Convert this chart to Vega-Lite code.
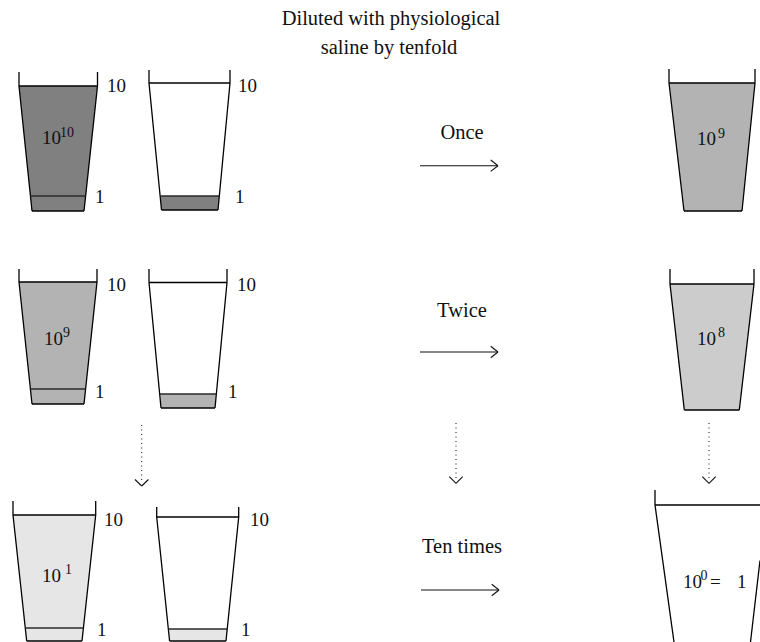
{
  "$schema": "https://vega.github.io/schema/vega-lite/v6.json",
  "width": 760,
  "height": 642,
  "padding": 0,
  "autosize": {"type": "fit", "contains": "padding"},
  "background": "white",
  "config": {"view": {"stroke": null}},
  "datasets": {
    "fills": [
      {"shape": "A1", "y": 86, "xl": 19, "xr": 97.5, "c": "#808080"},
      {"shape": "A1", "y": 211, "xl": 32, "xr": 84, "c": "#808080"},
      {"shape": "B1", "y": 196, "xl": 160.1, "xr": 219.3, "c": "#808080"},
      {"shape": "B1", "y": 210, "xl": 161.5, "xr": 218, "c": "#808080"},
      {"shape": "C1", "y": 83, "xl": 669, "xr": 755, "c": "#b3b3b3"},
      {"shape": "C1", "y": 211, "xl": 684, "xr": 742, "c": "#b3b3b3"},
      {"shape": "A2", "y": 282, "xl": 19, "xr": 97, "c": "#b3b3b3"},
      {"shape": "A2", "y": 404, "xl": 32, "xr": 84, "c": "#b3b3b3"},
      {"shape": "B2", "y": 394, "xl": 160, "xr": 216, "c": "#b3b3b3"},
      {"shape": "B2", "y": 408, "xl": 161, "xr": 215, "c": "#b3b3b3"},
      {"shape": "C2", "y": 284, "xl": 670, "xr": 754, "c": "#cccccc"},
      {"shape": "C2", "y": 410, "xl": 684.3, "xr": 739.3, "c": "#cccccc"},
      {"shape": "A3", "y": 515, "xl": 13, "xr": 95.7, "c": "#e6e6e6"},
      {"shape": "A3", "y": 641, "xl": 26.7, "xr": 82, "c": "#e6e6e6"},
      {"shape": "B3", "y": 629, "xl": 168.3, "xr": 227.3, "c": "#e6e6e6"},
      {"shape": "B3", "y": 641, "xl": 169.6, "xr": 226, "c": "#e6e6e6"}
    ],
    "segs": [
      {"s": "out", "x": 19, "y": 72, "x2": 19, "y2": 86},
      {"s": "out", "x": 97.5, "y": 72, "x2": 97.5, "y2": 86},
      {"s": "out", "x": 19, "y": 86, "x2": 97.5, "y2": 86},
      {"s": "out", "x": 19, "y": 86, "x2": 32, "y2": 211},
      {"s": "out", "x": 97.5, "y": 86, "x2": 84, "y2": 211},
      {"s": "out", "x": 32, "y": 211, "x2": 84, "y2": 211},
      {"s": "lvl", "x": 30.4, "y": 196, "x2": 85.6, "y2": 196},

      {"s": "out", "x": 149, "y": 70, "x2": 149, "y2": 83},
      {"s": "out", "x": 230, "y": 70, "x2": 230, "y2": 83},
      {"s": "out", "x": 149, "y": 83, "x2": 230, "y2": 83},
      {"s": "out", "x": 149, "y": 83, "x2": 161.5, "y2": 210},
      {"s": "out", "x": 230, "y": 83, "x2": 218, "y2": 210},
      {"s": "out", "x": 161.5, "y": 210, "x2": 218, "y2": 210},
      {"s": "lvl", "x": 160.1, "y": 196, "x2": 219.3, "y2": 196},

      {"s": "out", "x": 669, "y": 69, "x2": 669, "y2": 83},
      {"s": "out", "x": 755, "y": 69, "x2": 755, "y2": 83},
      {"s": "out", "x": 669, "y": 83, "x2": 755, "y2": 83},
      {"s": "out", "x": 669, "y": 83, "x2": 684, "y2": 211},
      {"s": "out", "x": 755, "y": 83, "x2": 742, "y2": 211},
      {"s": "out", "x": 684, "y": 211, "x2": 742, "y2": 211},

      {"s": "out", "x": 19, "y": 269, "x2": 19, "y2": 282},
      {"s": "out", "x": 97, "y": 269, "x2": 97, "y2": 282},
      {"s": "out", "x": 19, "y": 282, "x2": 97, "y2": 282},
      {"s": "out", "x": 19, "y": 282, "x2": 32, "y2": 404},
      {"s": "out", "x": 97, "y": 282, "x2": 84, "y2": 404},
      {"s": "out", "x": 32, "y": 404, "x2": 84, "y2": 404},
      {"s": "lvl", "x": 30.4, "y": 389, "x2": 85.6, "y2": 389},

      {"s": "out", "x": 149, "y": 269, "x2": 149, "y2": 282.5},
      {"s": "out", "x": 227, "y": 269, "x2": 227, "y2": 282.5},
      {"s": "out", "x": 149, "y": 282.5, "x2": 227, "y2": 282.5},
      {"s": "out", "x": 149, "y": 282.5, "x2": 161, "y2": 408},
      {"s": "out", "x": 227, "y": 282.5, "x2": 215, "y2": 408},
      {"s": "out", "x": 161, "y": 408, "x2": 215, "y2": 408},
      {"s": "lvl", "x": 160, "y": 394, "x2": 216, "y2": 394},

      {"s": "out", "x": 670, "y": 269, "x2": 670, "y2": 284},
      {"s": "out", "x": 754, "y": 269, "x2": 754, "y2": 284},
      {"s": "out", "x": 670, "y": 284, "x2": 754, "y2": 284},
      {"s": "out", "x": 670, "y": 284, "x2": 684.3, "y2": 410},
      {"s": "out", "x": 754, "y": 284, "x2": 739.3, "y2": 410},
      {"s": "out", "x": 684.3, "y": 410, "x2": 739.3, "y2": 410},

      {"s": "out", "x": 13, "y": 501, "x2": 13, "y2": 515},
      {"s": "out", "x": 95.7, "y": 501, "x2": 95.7, "y2": 515},
      {"s": "out", "x": 13, "y": 515, "x2": 95.7, "y2": 515},
      {"s": "out", "x": 13, "y": 515, "x2": 26.7, "y2": 641},
      {"s": "out", "x": 95.7, "y": 515, "x2": 82, "y2": 641},
      {"s": "out", "x": 26.7, "y": 641, "x2": 82, "y2": 641},
      {"s": "lvl", "x": 25.3, "y": 628, "x2": 83.4, "y2": 628},

      {"s": "out", "x": 156.7, "y": 507, "x2": 156.7, "y2": 517},
      {"s": "out", "x": 238.7, "y": 507, "x2": 238.7, "y2": 517},
      {"s": "out", "x": 156.7, "y": 517, "x2": 238.7, "y2": 517},
      {"s": "out", "x": 156.7, "y": 517, "x2": 169.6, "y2": 641},
      {"s": "out", "x": 238.7, "y": 517, "x2": 226, "y2": 641},
      {"s": "out", "x": 169.6, "y": 641, "x2": 226, "y2": 641},
      {"s": "lvl", "x": 168.3, "y": 629, "x2": 227.3, "y2": 629},

      {"s": "out", "x": 655, "y": 490, "x2": 655, "y2": 505},
      {"s": "out", "x": 655, "y": 505, "x2": 760, "y2": 505},
      {"s": "out", "x": 655, "y": 505, "x2": 674, "y2": 642},
      {"s": "out", "x": 760, "y": 560.5, "x2": 750.5, "y2": 642},

      {"s": "arr", "x": 420, "y": 165.7, "x2": 498, "y2": 165.7},
      {"s": "arr", "x": 490.7, "y": 160, "x2": 498, "y2": 165.7},
      {"s": "arr", "x": 490.7, "y": 171.4, "x2": 498, "y2": 165.7},
      {"s": "arr", "x": 420, "y": 352, "x2": 498, "y2": 352},
      {"s": "arr", "x": 490.7, "y": 346.3, "x2": 498, "y2": 352},
      {"s": "arr", "x": 490.7, "y": 357.7, "x2": 498, "y2": 352},
      {"s": "arr", "x": 421, "y": 590, "x2": 499, "y2": 590},
      {"s": "arr", "x": 491.7, "y": 584.3, "x2": 499, "y2": 590},
      {"s": "arr", "x": 491.7, "y": 595.7, "x2": 499, "y2": 590},

      {"s": "dot", "x": 141.7, "y": 425, "x2": 141.7, "y2": 483},
      {"s": "dot", "x": 456, "y": 423, "x2": 456, "y2": 481},
      {"s": "dot", "x": 709, "y": 423, "x2": 709, "y2": 481},
      {"s": "arr", "x": 135, "y": 479.5, "x2": 141.7, "y2": 486},
      {"s": "arr", "x": 148.4, "y": 479.5, "x2": 141.7, "y2": 486},
      {"s": "arr", "x": 449.3, "y": 476.7, "x2": 456, "y2": 483.3},
      {"s": "arr", "x": 462.7, "y": 476.7, "x2": 456, "y2": 483.3},
      {"s": "arr", "x": 702.3, "y": 476.7, "x2": 709, "y2": 483.3},
      {"s": "arr", "x": 715.7, "y": 476.7, "x2": 709, "y2": 483.3}
    ],
    "texts": [
      {"k": "main", "x": 107, "y": 92, "t": "10"},
      {"k": "main", "x": 95, "y": 203, "t": "1"},
      {"k": "main", "x": 238, "y": 92, "t": "10"},
      {"k": "main", "x": 235, "y": 203, "t": "1"},
      {"k": "main", "x": 42, "y": 144, "t": "10"},
      {"k": "sup", "x": 60, "y": 137, "t": "10"},
      {"k": "main", "x": 697, "y": 145, "t": "10"},
      {"k": "sup", "x": 718, "y": 138, "t": "9"},
      {"k": "main", "x": 107, "y": 291, "t": "10"},
      {"k": "main", "x": 95, "y": 398, "t": "1"},
      {"k": "main", "x": 237, "y": 291, "t": "10"},
      {"k": "main", "x": 228, "y": 398, "t": "1"},
      {"k": "main", "x": 44, "y": 345, "t": "10"},
      {"k": "sup", "x": 63, "y": 337, "t": "9"},
      {"k": "main", "x": 697, "y": 345, "t": "10"},
      {"k": "sup", "x": 718, "y": 337, "t": "8"},
      {"k": "main", "x": 104, "y": 526, "t": "10"},
      {"k": "main", "x": 97, "y": 636, "t": "1"},
      {"k": "main", "x": 250, "y": 526, "t": "10"},
      {"k": "main", "x": 241, "y": 636, "t": "1"},
      {"k": "main", "x": 42, "y": 582, "t": "10"},
      {"k": "sup", "x": 65, "y": 574, "t": "1"},
      {"k": "main", "x": 683, "y": 588, "t": "10"},
      {"k": "sup", "x": 700.5, "y": 580, "t": "0"},
      {"k": "main", "x": 710, "y": 588, "t": "="},
      {"k": "main", "x": 737, "y": 588, "t": "1"},
      {"k": "center", "x": 391, "y": 25, "t": "Diluted with physiological"},
      {"k": "center", "x": 389, "y": 54, "t": "saline by tenfold"},
      {"k": "center", "x": 462, "y": 139, "t": "Once"},
      {"k": "center", "x": 462, "y": 317, "t": "Twice"},
      {"k": "center", "x": 462, "y": 553, "t": "Ten times"}
    ]
  },
  "layer": [
    {
      "data": {"name": "fills"},
      "mark": {"type": "area", "orient": "horizontal", "clip": true},
      "encoding": {
        "y": {"field": "y", "type": "quantitative", "scale": {"domain": [0, 642], "reverse": true, "nice": false, "zero": false}, "axis": null},
        "x": {"field": "xl", "type": "quantitative", "scale": {"domain": [0, 760], "nice": false, "zero": false}, "axis": null},
        "x2": {"field": "xr"},
        "detail": {"field": "shape"},
        "fill": {"field": "c", "type": "nominal", "scale": null, "legend": null}
      }
    },
    {
      "data": {"name": "segs"},
      "transform": [{"filter": "datum.s === 'out'"}],
      "mark": {"type": "rule", "color": "#000000", "strokeWidth": 1.3, "clip": true},
      "encoding": {
        "x": {"field": "x", "type": "quantitative"},
        "y": {"field": "y", "type": "quantitative"},
        "x2": {"field": "x2"},
        "y2": {"field": "y2"}
      }
    },
    {
      "data": {"name": "segs"},
      "transform": [{"filter": "datum.s === 'lvl'"}],
      "mark": {"type": "rule", "color": "#2a2a2a", "strokeWidth": 1.6},
      "encoding": {
        "x": {"field": "x", "type": "quantitative"},
        "y": {"field": "y", "type": "quantitative"},
        "x2": {"field": "x2"},
        "y2": {"field": "y2"}
      }
    },
    {
      "data": {"name": "segs"},
      "transform": [{"filter": "datum.s === 'arr'"}],
      "mark": {"type": "rule", "color": "#111111", "strokeWidth": 1.1},
      "encoding": {
        "x": {"field": "x", "type": "quantitative"},
        "y": {"field": "y", "type": "quantitative"},
        "x2": {"field": "x2"},
        "y2": {"field": "y2"}
      }
    },
    {
      "data": {"name": "segs"},
      "transform": [{"filter": "datum.s === 'dot'"}],
      "mark": {"type": "rule", "color": "#111111", "strokeWidth": 1, "strokeDash": [1, 3.5]},
      "encoding": {
        "x": {"field": "x", "type": "quantitative"},
        "y": {"field": "y", "type": "quantitative"},
        "x2": {"field": "x2"},
        "y2": {"field": "y2"}
      }
    },
    {
      "data": {"name": "texts"},
      "transform": [{"filter": "datum.k === 'main'"}],
      "mark": {"type": "text", "font": "Liberation Serif", "fontSize": 19, "align": "left", "baseline": "alphabetic", "color": "#111111"},
      "encoding": {
        "x": {"field": "x", "type": "quantitative"},
        "y": {"field": "y", "type": "quantitative"},
        "text": {"field": "t"}
      }
    },
    {
      "data": {"name": "texts"},
      "transform": [{"filter": "datum.k === 'sup'"}],
      "mark": {"type": "text", "font": "Liberation Serif", "fontSize": 14, "align": "left", "baseline": "alphabetic", "color": "#111111"},
      "encoding": {
        "x": {"field": "x", "type": "quantitative"},
        "y": {"field": "y", "type": "quantitative"},
        "text": {"field": "t"}
      }
    },
    {
      "data": {"name": "texts"},
      "transform": [{"filter": "datum.k === 'center'"}],
      "mark": {"type": "text", "font": "Liberation Serif", "fontSize": 20.5, "align": "center", "baseline": "alphabetic", "color": "#111111"},
      "encoding": {
        "x": {"field": "x", "type": "quantitative"},
        "y": {"field": "y", "type": "quantitative"},
        "text": {"field": "t"}
      }
    }
  ]
}
